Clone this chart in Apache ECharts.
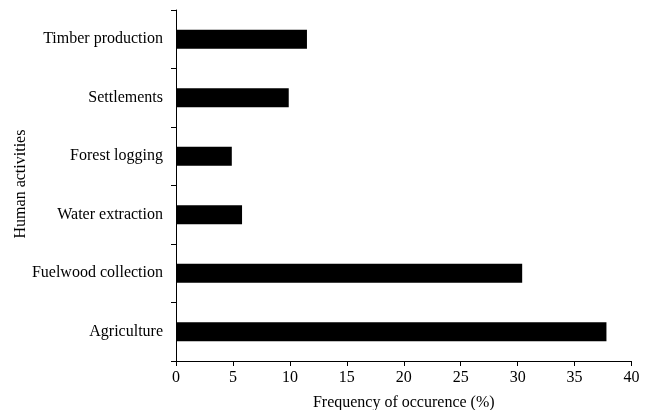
<!DOCTYPE html>
<html>
<head>
<meta charset="utf-8">
<script src="https://cdn.jsdelivr.net/npm/echarts@6/dist/echarts.min.js"></script>
<style>html,body{margin:0;padding:0;background:#fff}#c{width:646px;height:410px}</style>
</head>
<body>
<div id="c"></div>
<script>
const categories = ['Agriculture', 'Fuelwood collection', 'Water extraction', 'Forest logging', 'Settlements', 'Timber production'];
const values = [37.8, 30.4, 5.8, 4.9, 9.9, 11.5];
const xTicks = [0, 5, 10, 15, 20, 25, 30, 35, 40];
const yTitle = 'Human activities';
const xTitle = 'Frequency of occurence (%)';

const font = 'Liberation Serif';
const chart = echarts.init(document.getElementById('c'), null, {renderer: 'canvas'});
chart.setOption({
  animation: false,
  backgroundColor: '#fff',
  grid: {left: 176, right: 14.5, top: 10, bottom: 49, containLabel: false, outerBoundsMode: 'none'},
  graphic: [{
    type: 'text',
    x: 21, y: 184,
    rotation: Math.PI / 2,
    style: {
      text: yTitle,
      font: '16px "Liberation Serif"',
      fill: '#000',
      align: 'center',
      verticalAlign: 'middle'
    }
  }],
  xAxis: {
    type: 'value',
    min: xTicks[0], max: xTicks[xTicks.length - 1], interval: 5,
    name: xTitle,
    nameLocation: 'middle', nameGap: 34,
    nameTextStyle: {fontFamily: font, fontSize: 16, color: '#000'},
    axisLine: {show: true, lineStyle: {color: '#000', width: 1}},
    axisTick: {show: true, length: 5, lineStyle: {color: '#000'}},
    axisLabel: {fontFamily: font, fontSize: 16, color: '#000', margin: 9},
    splitLine: {show: false}
  },
  yAxis: {
    type: 'category',
    data: categories,
    axisLine: {show: true, lineStyle: {color: '#000', width: 1}},
    axisTick: {show: true, length: 5, lineStyle: {color: '#000'}},
    axisLabel: {fontFamily: font, fontSize: 16, color: '#000', margin: 13},
    splitLine: {show: false}
  },
  series: [{
    type: 'bar',
    data: values,
    barWidth: 19,
    itemStyle: {color: '#000'}
  }]
});
</script>
</body>
</html>
